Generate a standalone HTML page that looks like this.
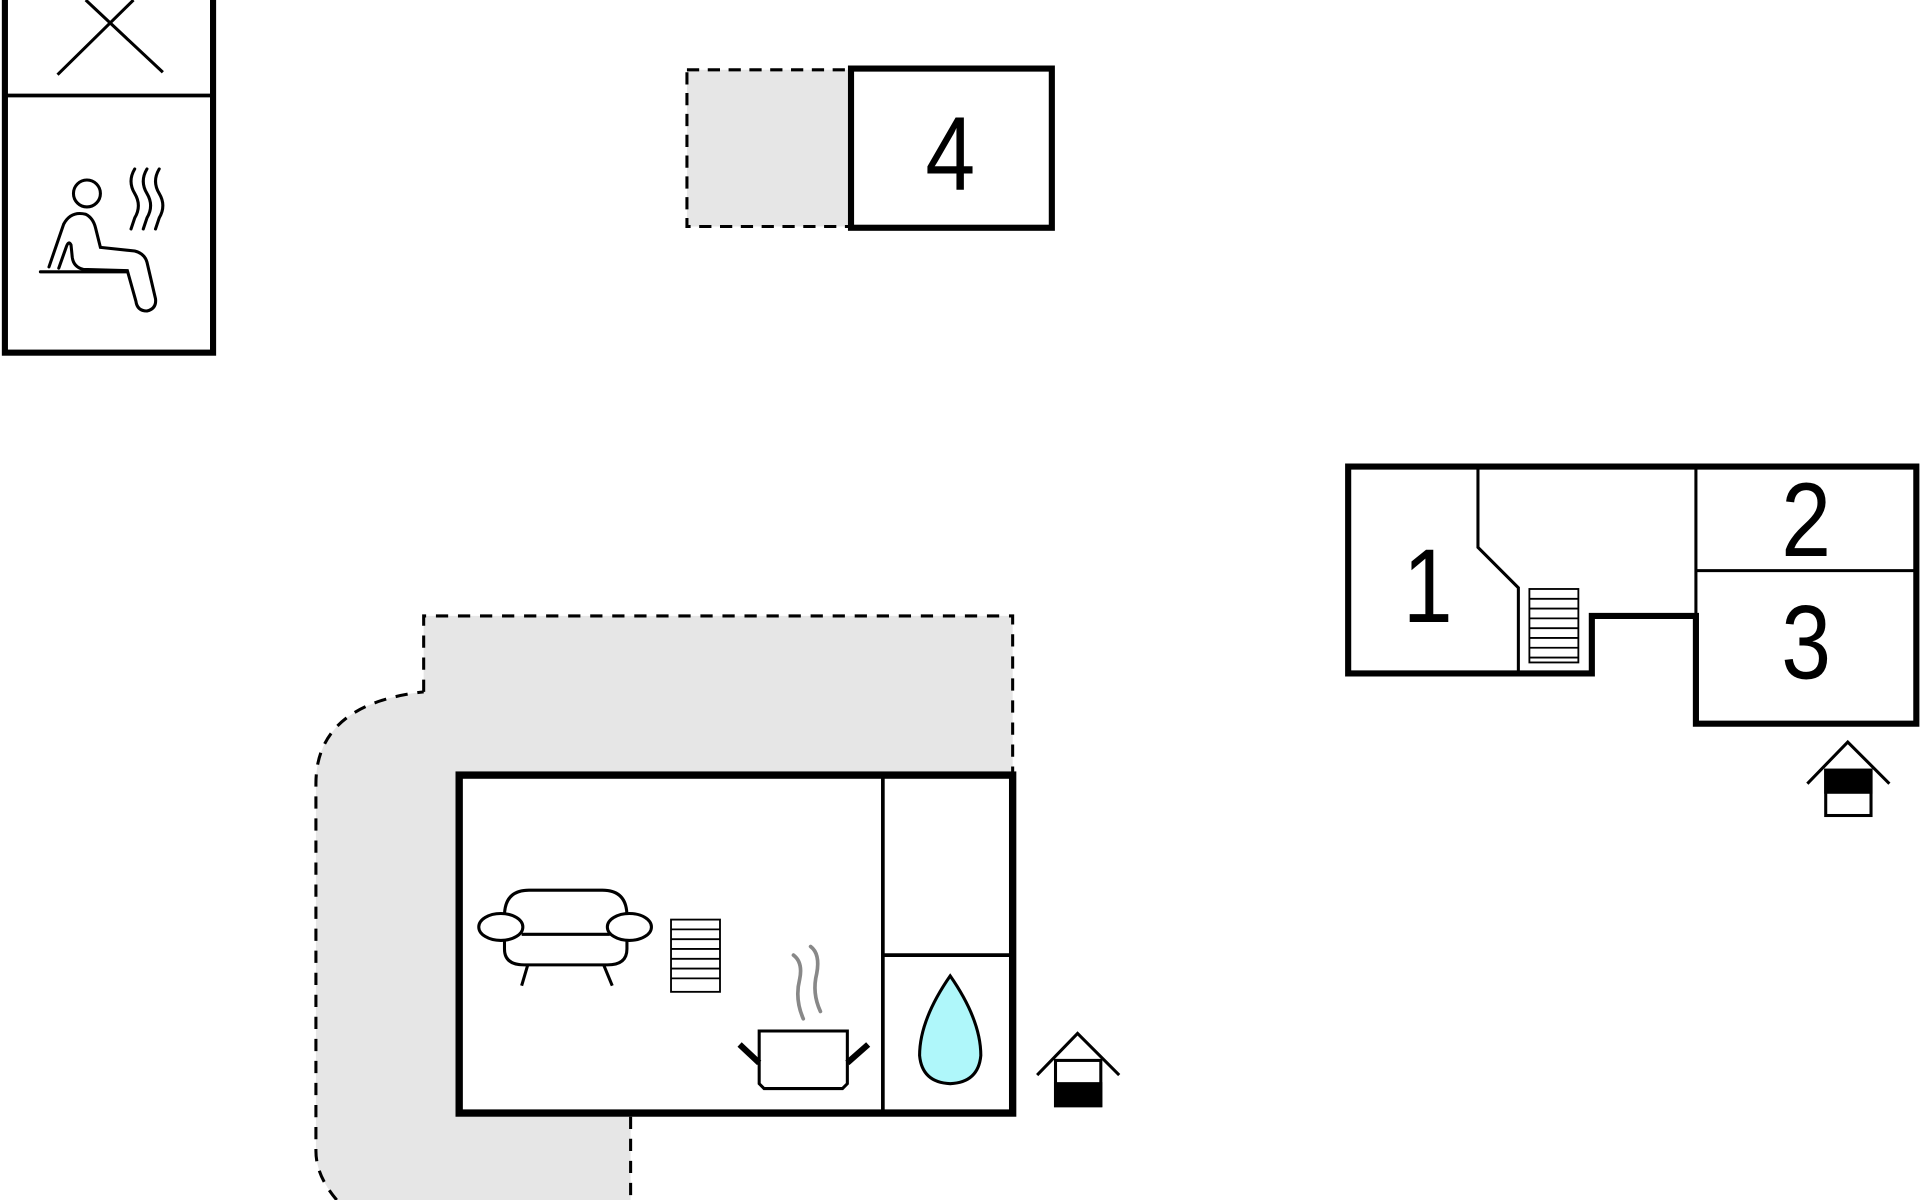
<!DOCTYPE html>
<html><head><meta charset="utf-8"><style>html,body{margin:0;padding:0;background:#fff;}svg{display:block}</style></head>
<body>
<svg width="1920" height="1200" viewBox="0 0 1568 980" xmlns="http://www.w3.org/2000/svg" font-family="Liberation Sans, sans-serif">
<!-- top-left sauna box -->
<rect x="4" y="-10" width="170" height="298" fill="none" stroke="#000" stroke-width="5"/>
<line x1="4" y1="78" x2="174" y2="78" stroke="#000" stroke-width="3"/>
<line x1="47" y1="61" x2="109" y2="0" stroke="#000" stroke-width="2.5"/>
<line x1="133" y1="59" x2="70" y2="0" stroke="#000" stroke-width="2.5"/>
<g fill="none" stroke="#000" stroke-width="2.5" stroke-linecap="round">
<circle cx="71" cy="158" r="11"/>
<path d="M40 218 L52 183 Q58 172 70 175 Q76 178 78 186 L82 202 L110 205 Q118 207 120 214 L127 244 Q128 252 120 254 Q112 254 111 246 L104 221 L68 220 Q60 218 59 210 L58 200 Q56 196 54 202 L48 219"/>
<line x1="33" y1="222" x2="103" y2="222"/>
<path d="M110 138 Q104 148 110 158 Q116 168 110 178 L107 187"/>
<path d="M120 138 Q114 148 120 158 Q126 168 120 178 L117 187"/>
<path d="M130 138 Q124 148 130 158 Q136 168 130 178 L127 187"/>
</g>
<!-- room 4 -->
<rect x="561" y="57" width="133" height="128" fill="#e6e6e6" stroke="#000" stroke-width="2.5" stroke-dasharray="10,7"/>
<rect x="695" y="56" width="164" height="130" fill="#fff" stroke="#000" stroke-width="5"/>
<text font-size="86" text-anchor="middle" transform="translate(776,155) scale(0.85,1)">4</text>
<!-- right building -->
<path d="M1101 381 L1565 381 L1565 591 L1385 591 L1385 503 L1300 503 L1300 550 L1101 550 Z" fill="#fff" stroke="#000" stroke-width="5"/>
<path d="M1207 381 L1207 447 L1240 480 L1240 550" fill="none" stroke="#000" stroke-width="2.5"/>
<line x1="1385" y1="381" x2="1385" y2="503" stroke="#000" stroke-width="2.5"/>
<line x1="1385" y1="466" x2="1565" y2="466" stroke="#000" stroke-width="2.5"/>
<text font-size="86" text-anchor="middle" transform="translate(1166,508) scale(0.85,1)">1</text>
<text font-size="86" text-anchor="middle" transform="translate(1475,454) scale(0.85,1)">2</text>
<text font-size="86" text-anchor="middle" transform="translate(1475,554) scale(0.85,1)">3</text>
<g stroke="#000" stroke-width="1.5" fill="#fff">
<rect x="1249" y="481" width="40" height="60"/>
<line x1="1249" y1="489" x2="1289" y2="489"/><line x1="1249" y1="497" x2="1289" y2="497"/><line x1="1249" y1="505" x2="1289" y2="505"/><line x1="1249" y1="513" x2="1289" y2="513"/><line x1="1249" y1="521" x2="1289" y2="521"/><line x1="1249" y1="529" x2="1289" y2="529"/><line x1="1249" y1="537" x2="1289" y2="537"/>
</g>
<!-- house icon right -->
<g stroke="#000" stroke-width="2.5" fill="none">
<path d="M1476 640 L1509 606 L1543 640"/>
<rect x="1491" y="629" width="37" height="37" fill="#fff"/>
<rect x="1491" y="629" width="37" height="18" fill="#000"/>
</g>
<!-- bottom gray area -->
<path d="M346 565 L346 503 L827 503 L827 632 L375 632 L375 912 L515 912 L515 980 L275 980 Q258 960 258 940 L258 640 Q258 575 346 565 Z" fill="#e6e6e6"/>
<path d="M346 565 L346 503 L827 503 L827 632 M515 912 L515 980 M275 980 Q258 960 258 940 L258 640 Q258 575 346 565" fill="none" stroke="#000" stroke-width="2.5" stroke-dasharray="10,8"/>
<rect x="375" y="633" width="452" height="276" fill="#fff" stroke="#000" stroke-width="6"/>
<line x1="721" y1="633" x2="721" y2="909" stroke="#000" stroke-width="3"/>
<line x1="721" y1="780" x2="827" y2="780" stroke="#000" stroke-width="3"/>
<!-- sofa -->
<g fill="#fff" stroke="#000" stroke-width="2.5">
<path d="M412 748 Q412 727 432 727 L492 727 Q512 727 512 748 L512 775 Q512 788 496 788 L428 788 Q412 788 412 775 Z"/>
<line x1="426" y1="763" x2="498" y2="763"/>
<line x1="431" y1="788" x2="426" y2="805"/><line x1="493" y1="788" x2="500" y2="805"/>
<ellipse cx="409" cy="757" rx="18" ry="11"/>
<ellipse cx="514" cy="757" rx="18" ry="11"/>
</g>
<g stroke="#000" stroke-width="1.5" fill="#fff">
<rect x="548" y="751" width="40" height="59"/>
<line x1="548" y1="759" x2="588" y2="759"/><line x1="548" y1="767" x2="588" y2="767"/><line x1="548" y1="775" x2="588" y2="775"/><line x1="548" y1="783" x2="588" y2="783"/><line x1="548" y1="791" x2="588" y2="791"/><line x1="548" y1="799" x2="588" y2="799"/>
</g>
<!-- pot -->
<g fill="none" stroke="#888" stroke-width="3" stroke-linecap="round">
<path d="M648 780 Q656 786 653 800 Q649 816 656 832"/>
<path d="M662 773 Q670 779 667 795 Q663 811 670 826"/>
</g>
<path d="M620 842 L692 842 L692 885 L688 889 L624 889 L620 885 Z" fill="#fff" stroke="#000" stroke-width="2.5"/>
<line x1="620" y1="868" x2="604" y2="853" stroke="#000" stroke-width="5"/>
<line x1="692" y1="868" x2="709" y2="853" stroke="#000" stroke-width="5"/>
<!-- droplet -->
<path d="M776 797 Q801 833 801 862 Q799 884 776 885 Q753 884 751 862 Q751 833 776 797 Z" fill="#aff7fa" stroke="#000" stroke-width="2.5"/>
<!-- house icon bottom -->
<g stroke="#000" stroke-width="2.5" fill="none">
<path d="M847 878 L880 844 L914 878"/>
<rect x="862" y="866" width="37" height="37" fill="#fff"/>
<rect x="862" y="885" width="37" height="18" fill="#000"/>
</g>
</svg>
</body></html>
